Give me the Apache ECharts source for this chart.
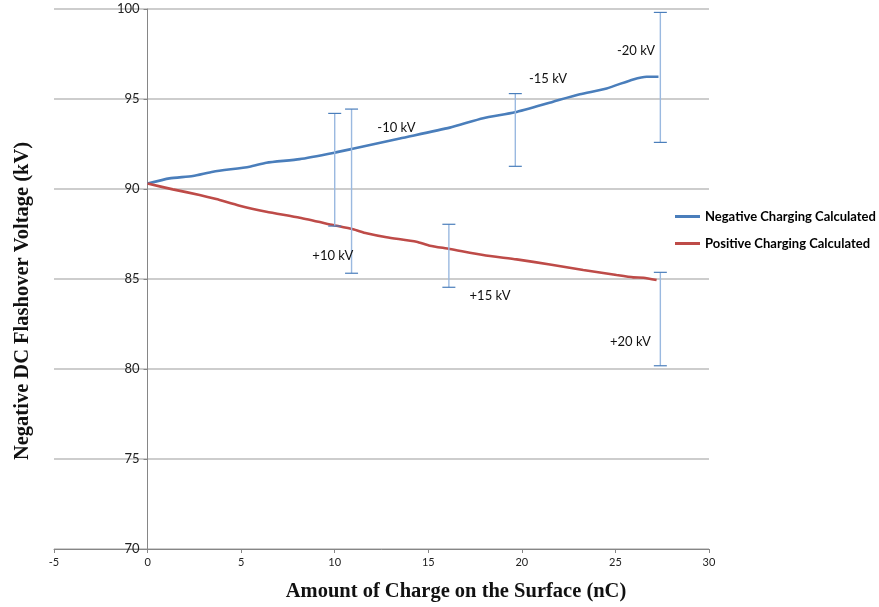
<!DOCTYPE html>
<html>
<head>
<meta charset="utf-8">
<script src="https://cdn.jsdelivr.net/npm/echarts@6/dist/echarts.min.js"></script>
<style>
  html, body { margin: 0; padding: 0; background: #fff; }
  #chart { width: 879px; height: 607px; }
</style>
</head>
<body>
<div id="chart"></div>
<script>
// Calculated flashover voltage vs. surface charge (negative charging)
const negCharge  = [0, 1.17, 2.42, 3.5, 5.45, 6.35, 8.13, 10.0, 10.9, 13.48, 16.15, 17.93, 19.63, 21.67, 23.1, 24.53, 25.95, 26.67, 27.3];
const negVoltage = [90.3, 90.59, 90.72, 90.96, 91.24, 91.46, 91.66, 92.02, 92.22, 92.81, 93.41, 93.93, 94.26, 94.85, 95.26, 95.59, 96.09, 96.24, 96.24];

// Calculated flashover voltage vs. surface charge (positive charging)
const posCharge  = [0, 1.35, 2.78, 3.67, 4.92, 6.35, 8.13, 9.91, 10.98, 11.7, 12.77, 14.37, 15.08, 16.15, 17.93, 19.72, 21.5, 23.28, 25.06, 25.95, 26.5, 27.2];
const posVoltage = [90.3, 89.98, 89.67, 89.44, 89.07, 88.74, 88.4, 88.0, 87.76, 87.54, 87.32, 87.07, 86.85, 86.67, 86.33, 86.09, 85.81, 85.5, 85.22, 85.09, 85.07, 84.94];

// Measured ranges (error bars)
const errCharge = [10.0, 10.9, 19.65, 27.4, 16.1, 27.4];
const errLow    = [87.94, 85.32, 91.26, 92.59, 84.54, 80.18];
const errHigh   = [94.2, 94.44, 95.3, 99.81, 88.04, 85.37];

// Charging voltage annotations
const noteText    = ['-10 kV', '-15 kV', '-20 kV', '+10 kV', '+15 kV', '+20 kV'];
const noteCharge  = [13.3, 21.4, 26.1, 9.9, 18.3, 25.8];
const noteVoltage = [93.4, 96.1, 97.7, 86.3, 84.05, 81.5];

const xTicks = { min: -5, max: 30, interval: 5 };
const yTicks = { min: 70, max: 100, interval: 5 };

const seriesNames = ['Negative Charging Calculated', 'Positive Charging Calculated'];

const zip = (a, b) => a.map((v, i) => [v, b[i]]);

const gridLeft = 54, gridRight = 170;
const plotWidth = 879 - gridLeft - gridRight;
// shift the vertical axis inward so it crosses the horizontal axis at charge = 0
const yAxisShift = -plotWidth * (0 - xTicks.min) / (xTicks.max - xTicks.min);

const chart = echarts.init(document.getElementById('chart'), null, { renderer: 'canvas' });

const option = {
  animation: false,
  backgroundColor: '#ffffff',
  grid: { left: gridLeft, right: gridRight, top: 9, bottom: 58, containLabel: false },
  legend: {
    data: seriesNames,
    orient: 'vertical',
    left: 675,
    top: 210,
    padding: 0,
    icon: 'rect',
    itemWidth: 25,
    itemHeight: 3,
    itemGap: 14,
    textStyle: { fontFamily: 'Lato', fontWeight: 'bold', fontSize: 13, color: '#000' }
  },
  xAxis: {
    type: 'value',
    min: xTicks.min, max: xTicks.max, interval: xTicks.interval,
    axisLine: { onZero: false, lineStyle: { color: '#868686', width: 1 } },
    axisTick: { show: true, inside: false, length: 4, lineStyle: { color: '#868686' } },
    axisLabel: { fontFamily: 'Lato', fontSize: 11, color: '#222', margin: 8 },
    splitLine: { show: false }
  },
  yAxis: {
    type: 'value',
    position: 'left',
    offset: yAxisShift,
    min: yTicks.min, max: yTicks.max, interval: yTicks.interval,
    axisLine: { show: true, onZero: false, lineStyle: { color: '#868686', width: 1 } },
    axisTick: { show: true, inside: false, length: 4, lineStyle: { color: '#868686' } },
    axisLabel: { fontFamily: 'Lato', fontSize: 13, color: '#222', margin: 8 },
    splitLine: { show: true, lineStyle: { color: '#bdbdbd', width: 1.5 } }
  },
  graphic: [
    {
      type: 'text',
      x: 23, y: 301,
      rotation: Math.PI / 2,
      style: {
        text: 'Negative DC Flashover Voltage (kV)',
        font: 'bold 20.5px "Liberation Serif"',
        fill: '#111',
        align: 'center', verticalAlign: 'middle',
        textAlign: 'center', textVerticalAlign: 'middle'
      }
    },
    {
      type: 'text',
      x: 456, y: 592,
      style: {
        text: 'Amount of Charge on the Surface (nC)',
        font: 'bold 20.5px "Liberation Serif"',
        fill: '#111',
        align: 'center', verticalAlign: 'middle',
        textAlign: 'center', textVerticalAlign: 'middle'
      }
    }
  ],
  series: [
    {
      name: seriesNames[0],
      type: 'line',
      data: zip(negCharge, negVoltage),
      showSymbol: false,
      smooth: 0.2,
      color: '#4a7ebb',
      lineStyle: { color: '#4a7ebb', width: 2.6 },
      z: 3
    },
    {
      name: seriesNames[1],
      type: 'line',
      data: zip(posCharge, posVoltage),
      showSymbol: false,
      smooth: 0.2,
      color: '#be4b48',
      lineStyle: { color: '#be4b48', width: 2.6 },
      z: 3
    },
    {
      type: 'custom',
      name: 'range',
      data: errCharge.map((x, i) => [x, errLow[i], errHigh[i]]),
      z: 4,
      renderItem: function (params, api) {
        const x = api.value(0);
        const lo = api.coord([x, api.value(1)]);
        const hi = api.coord([x, api.value(2)]);
        const half = 6.5;
        return {
          type: 'group',
          children: [
            { type: 'line', shape: { x1: lo[0], y1: lo[1], x2: hi[0], y2: hi[1] },
              style: { stroke: '#9ab9e0', lineWidth: 1.4 } },
            { type: 'line', shape: { x1: lo[0] - half, y1: lo[1], x2: lo[0] + half, y2: lo[1] },
              style: { stroke: '#4a7ebb', lineWidth: 1.2 } },
            { type: 'line', shape: { x1: hi[0] - half, y1: hi[1], x2: hi[0] + half, y2: hi[1] },
              style: { stroke: '#4a7ebb', lineWidth: 1.2 } }
          ]
        };
      }
    },
    {
      type: 'custom',
      name: 'notes',
      data: noteCharge.map((x, i) => [x, noteVoltage[i], i]),
      z: 5,
      renderItem: function (params, api) {
        const p = api.coord([api.value(0), api.value(1)]);
        return {
          type: 'text',
          x: p[0], y: p[1],
          style: {
            text: noteText[api.value(2)],
            font: '13px Lato',
            fill: '#111',
            align: 'center', verticalAlign: 'middle',
            textAlign: 'center', textVerticalAlign: 'middle'
          }
        };
      }
    }
  ]
};

chart.setOption(option);
</script>
</body>
</html>
